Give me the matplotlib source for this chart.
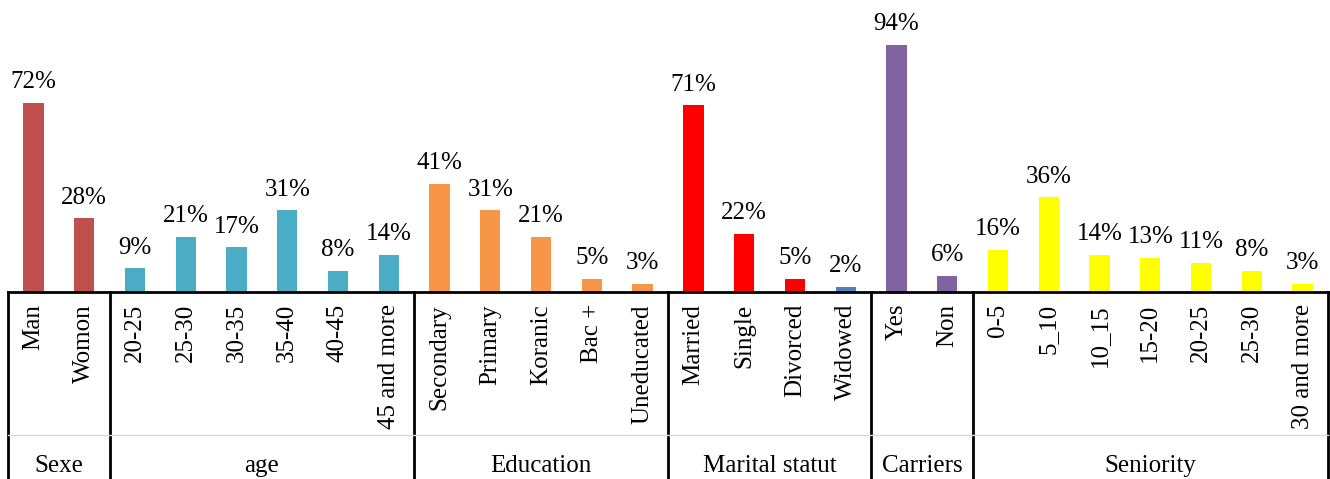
import matplotlib.pyplot as plt
import matplotlib.transforms as mtransforms
from matplotlib.lines import Line2D

plt.rcParams['font.family'] = ['Liberation Serif', 'DejaVu Serif']

# ---------------------------
# Data
# ---------------------------
groups = ['Sexe', 'age', 'Education', 'Marital statut', 'Carriers', 'Seniority']
sexe_labels = ['Man', 'Womon']
sexe_values = [72, 28]
age_labels = ['20-25', '25-30', '30-35', '35-40', '40-45', '45 and more']
age_values = [9, 21, 17, 31, 8, 14]
edu_labels = ['Secondary', 'Primary', 'Koranic', 'Bac +', 'Uneducated']
edu_values = [41, 31, 21, 5, 3]
marital_labels = ['Married', 'Single', 'Divorced', 'Widowed']
marital_values = [71, 22, 5, 2]
carriers_labels = ['Yes', 'Non']
carriers_values = [94, 6]
seniority_labels = ['0-5', '5_10', '10_15', '15-20', '20-25', '25-30', '30 and more']
seniority_values = [16, 36, 14, 13, 11, 8, 3]

group_labels = [sexe_labels, age_labels, edu_labels, marital_labels,
                carriers_labels, seniority_labels]
group_values = [sexe_values, age_values, edu_values, marital_values,
                carriers_values, seniority_values]
group_colors = [['#C0504D'] * 2,
                ['#4BACC6'] * 6,
                ['#F79646'] * 5,
                ['#FF0000', '#FF0000', '#FF0000', '#4F81BD'],
                ['#8064A2'] * 2,
                ['#FFFF00'] * 7]

# ---------------------------
# Figure
# ---------------------------
W, H = 1330, 479
fig = plt.figure(figsize=(W / 100, H / 100), dpi=100)
ax = fig.add_axes([8 / W, 1 - 292 / H, 1320 / W, 292 / H])

labels = [l for g in group_labels for l in g]
values = [v for g in group_values for v in g]
colors = [c for g in group_colors for c in g]
x = list(range(len(values)))

bars = ax.bar(x, values, width=0.4, color=colors, zorder=2)
for xi, v in zip(x, values):
    ax.annotate(f"{v}%", (xi, v), xytext=(0, 7), textcoords='offset points',
                ha='center', va='bottom', fontsize=18)

ax.set_xlim(-0.5, len(values) - 0.5)
ax.set_ylim(0, 111)
for s in ['top', 'left', 'right']:
    ax.spines[s].set_visible(False)
ax.spines['bottom'].set_linewidth(2)
ax.set_xticks([])
ax.set_yticks([])

# ---------------------------
# Multi-level category axis
# ---------------------------
trans = mtransforms.blended_transform_factory(ax.transData, fig.transFigure)
y_axis = 1 - 292 / H

for xi, lab in zip(x, labels):
    ax.text(xi, 1 - 304 / H, lab, transform=trans, rotation=90,
            ha='center', va='top', fontsize=18, clip_on=False)

# faint line between tick labels and group labels
fig.add_artist(Line2D([8 / W, 1328 / W], [1 - 435 / H, 1 - 435 / H],
                      color='#d9d9d9', lw=1))

start = -0.5
bounds = [start]
for g, lab in zip(group_values, groups):
    end = start + len(g)
    ax.text((start + end) / 2, 1 - 466 / H, lab, transform=trans,
            ha='center', va='center', fontsize=18, clip_on=False)
    bounds.append(end)
    start = end

for b in bounds:
    ax.add_line(Line2D([b, b], [y_axis, 0], transform=trans, color='black',
                       lw=2, clip_on=False))

fig.savefig('out.png', dpi=100)
